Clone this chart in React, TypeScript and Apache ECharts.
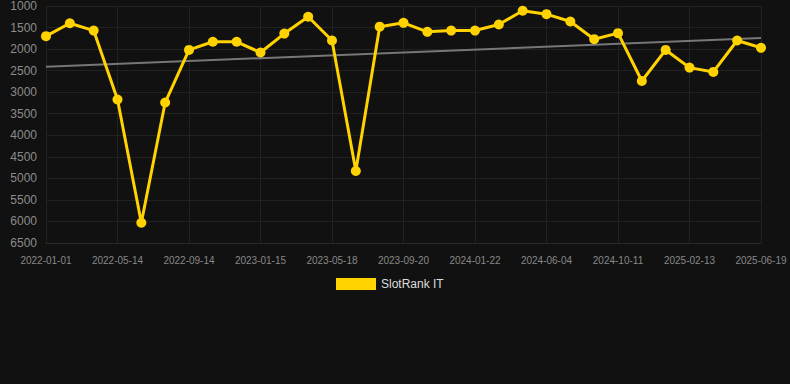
import React, { useEffect, useRef } from "react";
import * as echarts from "echarts";

const dates: string[] = [
  "2022-01-01", "2022-02-14", "2022-03-30", "2022-05-14", "2022-06-24", "2022-08-04",
  "2022-09-14", "2022-10-25", "2022-12-05", "2023-01-15", "2023-02-25", "2023-04-07",
  "2023-05-18", "2023-06-29", "2023-08-09", "2023-09-20", "2023-10-31", "2023-12-11",
  "2024-01-22", "2024-03-06", "2024-04-20", "2024-06-04", "2024-07-17", "2024-08-29",
  "2024-10-11", "2024-11-22", "2025-01-02", "2025-02-13", "2025-03-28", "2025-05-09",
  "2025-06-19",
];

const slotRankIT: number[] = [
  1700, 1400, 1570, 3170, 6030, 3240, 2020, 1830, 1830, 2080, 1640, 1250,
  1800, 4830, 1480, 1390, 1600, 1570, 1570, 1430, 1110, 1190, 1360, 1770,
  1630, 2740, 2020, 2430, 2530, 1800, 1970,
];

const trendStart = 2410;
const trendEnd = 1745;

const yMin = 1000;
const yMax = 6500;
const yStep = 500;

export default function App() {
  const ref = useRef<HTMLDivElement>(null);
  useEffect(() => {
    document.body.style.margin = "0";
    document.body.style.background = "#111111";
    if (!ref.current) return;
    const chart = echarts.init(ref.current, undefined, { renderer: "svg" });
    const trendData = dates.map((_, i) =>
      i === 0 ? trendStart : i === dates.length - 1 ? trendEnd : null
    );
    chart.setOption({
      animation: false,
      backgroundColor: "#111111",
      textStyle: { fontFamily: "Arial, Liberation Sans, sans-serif" },
      grid: { left: 46, right: 29, top: 6, bottom: 141, containLabel: false },
      legend: {
        top: 273,
        left: 331,
        itemWidth: 40,
        itemHeight: 12,
        itemGap: 10,
        data: [{ name: "SlotRank IT", icon: "rect" }],
        textStyle: { color: "#dddddd", fontSize: 12 },
      },
      xAxis: {
        type: "category",
        data: dates,
        boundaryGap: false,
        axisLine: { show: true, lineStyle: { color: "#2a2a2a" } },
        axisTick: { show: false },
        axisLabel: { interval: 2, color: "#888888", fontSize: 10, margin: 12 },
        splitLine: { show: true, interval: 2, lineStyle: { color: "#222222", width: 1 } },
      },
      yAxis: {
        type: "value",
        inverse: true,
        min: yMin,
        max: yMax,
        interval: yStep,
        axisLine: { show: false },
        axisTick: { show: false },
        axisLabel: {
          color: "#8c8c8c",
          fontSize: 12,
          margin: 9,
          formatter: (v: number) => String(v),
        },
        splitLine: { show: true, lineStyle: { color: "#222222", width: 1 } },
      },
      series: [
        {
          name: "SlotRank IT",
          type: "line",
          data: slotRankIT,
          color: "#FFD200",
          symbol: "circle",
          symbolSize: 10,
          lineStyle: { width: 3, color: "#FFD200" },
          itemStyle: { color: "#FFD200" },
          z: 3,
        },
        {
          name: "Trend",
          type: "line",
          data: trendData,
          connectNulls: true,
          symbol: "none",
          lineStyle: { width: 2, color: "#777777" },
          z: 2,
        },
      ],
    });
    return () => chart.dispose();
  }, []);
  return <div ref={ref} style={{ width: 790, height: 384 }} />;
}
